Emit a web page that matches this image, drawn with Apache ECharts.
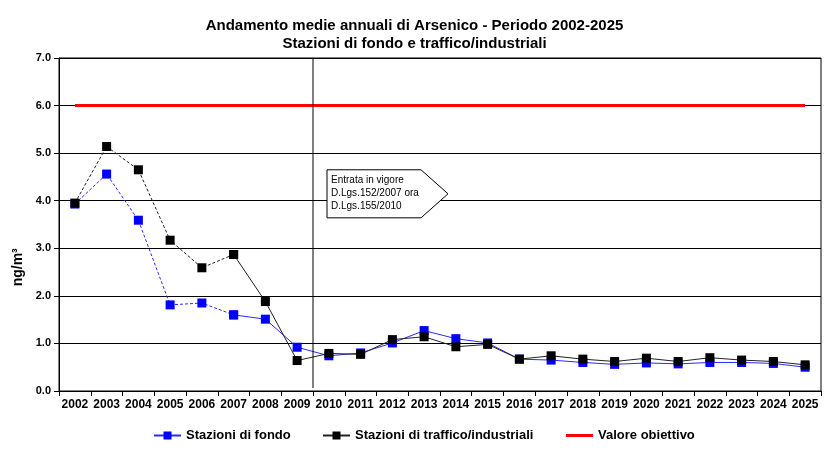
<!DOCTYPE html>
<html><head><meta charset="utf-8">
<script src="https://cdn.jsdelivr.net/npm/echarts@6/dist/echarts.min.js"></script>
<style>html,body{margin:0;padding:0;background:#fff}#c{width:829px;height:456px}</style>
</head><body><div id="c"></div>
<script>
var years = ['2002','2003','2004','2005','2006','2007','2008','2009','2010','2011','2012','2013','2014','2015','2016','2017','2018','2019','2020','2021','2022','2023','2024','2025'];
var fondo = [3.93,4.56,3.59,1.81,1.85,1.60,1.51,0.92,0.74,0.80,1.01,1.27,1.10,1.01,0.67,0.65,0.60,0.56,0.59,0.57,0.60,0.60,0.58,0.50];
var traffico = [3.95,5.14,4.65,3.17,2.59,2.87,1.88,0.64,0.79,0.77,1.08,1.14,0.93,0.98,0.67,0.74,0.67,0.62,0.69,0.62,0.70,0.65,0.62,0.55];
var obiettivo = [6,6,6,6,6,6,6,6,6,6,6,6,6,6,6,6,6,6,6,6,6,6,6,6];
var dashEnd = 5; // index of 2007: dashed up to here
var noteLines = ['Entrata in vigore','D.Lgs.152/2007 ora','D.Lgs.155/2010'];
var seriesNames = ['Stazioni di fondo','Stazioni di traffico/industriali','Valore obiettivo'];

function part(arr, from, to){ return arr.map(function(v,i){ return (i>=from && i<=to) ? v : '-'; }); }

var chart = echarts.init(document.getElementById('c'));
var FONT = 'Liberation Sans, Arial, sans-serif';
var legTxt = {fontFamily:FONT,fontSize:13,fontWeight:'bold',color:'#000'};
function leg(name,left,extra){
  var l = {bottom:14,left:left,padding:0,itemWidth:27,itemHeight:10,itemGap:4,textStyle:legTxt,data:[name]};
  if (extra) for (var k in extra) l[k]=extra[k];
  return l;
}
var option = {
  animation:false,
  title:{
    text:'Andamento medie annuali di Arsenico - Periodo 2002-2025\nStazioni di fondo e traffico/industriali',
    left:'center', top:12,
    textStyle:{fontFamily:FONT,fontSize:15,fontWeight:'bold',color:'#000',lineHeight:18}
  },
  legend:[
    leg(seriesNames[0],153),
    leg(seriesNames[1],322),
    leg(seriesNames[2],566,{icon:'rect',itemHeight:3})
  ],
  grid:{left:59,right:8,top:58,bottom:65,show:true,borderColor:'#000',borderWidth:1},
  xAxis:{
    type:'category', data:years, boundaryGap:true,
    axisLine:{lineStyle:{color:'#000'}},
    axisTick:{show:true,length:5,interval:0,lineStyle:{color:'#000'}},
    axisLabel:{interval:0,fontFamily:FONT,fontSize:12,fontWeight:'bold',color:'#000',margin:8}
  },
  yAxis:{
    type:'value', min:0, max:7, interval:1,
    axisLine:{show:true,lineStyle:{color:'#000'}},
    axisTick:{show:true,length:5,lineStyle:{color:'#000'}},
    splitLine:{show:true,lineStyle:{color:'#000',width:1}},
    axisLabel:{fontFamily:FONT,fontSize:11,fontWeight:'bold',color:'#000',formatter:function(v){return v.toFixed(1);}}
  },
  series:[
    {name:seriesNames[2],type:'line',data:obiettivo,symbol:'none',lineStyle:{color:'#ff0000',width:3},itemStyle:{color:'#ff0000'},z:1},
    {name:seriesNames[1],type:'line',data:part(traffico,dashEnd,23),symbol:'rect',symbolSize:9,
      lineStyle:{color:'#222',width:1},itemStyle:{color:'#000'},z:3},
    {name:seriesNames[1],type:'line',data:part(traffico,0,dashEnd),symbol:'rect',symbolSize:9,
      lineStyle:{color:'#222',width:1,type:[3,2]},itemStyle:{color:'#000'},z:3},
    {name:seriesNames[0],type:'line',data:part(fondo,dashEnd,23),symbol:'rect',symbolSize:9,
      lineStyle:{color:'#2a2aff',width:1},itemStyle:{color:'#0000ff'},z:2},
    {name:seriesNames[0],type:'line',data:part(fondo,0,dashEnd),symbol:'rect',symbolSize:9,
      lineStyle:{color:'#2a2aff',width:1,type:[3,2]},itemStyle:{color:'#0000ff'},z:2}
  ]
};
chart.setOption(option);

// vertical separator at category boundary + annotation callout
var p0 = chart.convertToPixel({xAxisIndex:0,yAxisIndex:0},[7,7]);
var p1 = chart.convertToPixel({xAxisIndex:0,yAxisIndex:0},[8,0]);
var lx = (p0[0]+p1[0])/2;
var yTop = p0[1], yBot = p1[1];
var a = chart.convertToPixel({xAxisIndex:0,yAxisIndex:0},[8,4.65]);
var b = chart.convertToPixel({xAxisIndex:0,yAxisIndex:0},[8,3.64]);
var bx = lx+14, by = a[1], bw = 94, bh = b[1]-a[1];
var mid = chart.convertToPixel({xAxisIndex:0,yAxisIndex:0},[0,2.6]);
chart.setOption({graphic:[
  {type:'line',z:10,shape:{x1:lx,y1:yTop,x2:lx,y2:yBot-3},style:{stroke:'#000',lineWidth:1}},
  {type:'polygon',z:11,shape:{points:[[bx,by],[bx+bw,by],[bx+bw+27,by+bh/2],[bx+bw,by+bh],[bx,by+bh]]},
    style:{fill:'#fff',stroke:'#000',lineWidth:1}},
  {type:'text',z:12,x:bx+4,y:by+4,style:{text:noteLines.join('\n'),fontFamily:FONT,fontSize:10,lineHeight:13,fill:'#000'}},
  {type:'text',z:12,x:18,y:mid[1],rotation:Math.PI/2,
    style:{text:'ng/m³',fontFamily:FONT,fontSize:14,fontWeight:'bold',fill:'#000',align:'center',verticalAlign:'middle'}}
]});
</script></body></html>
